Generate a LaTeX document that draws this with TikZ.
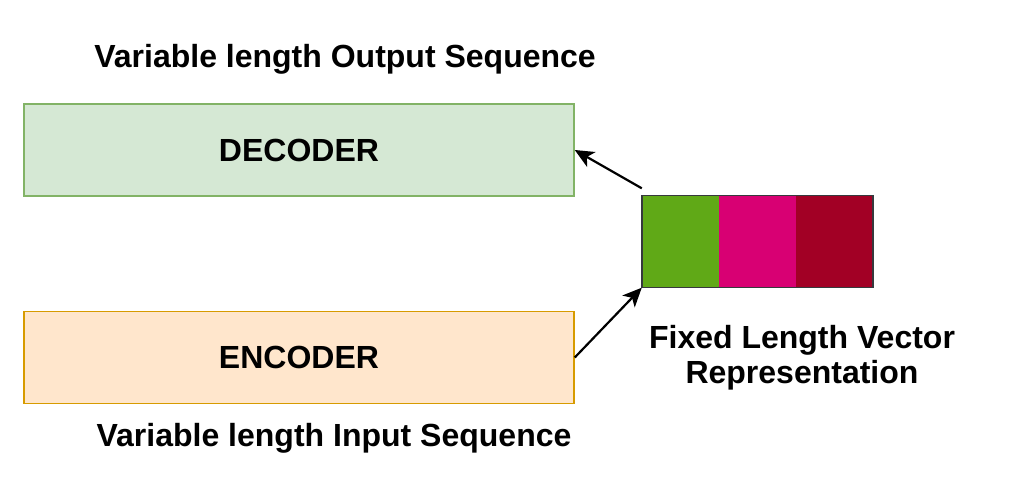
\documentclass[tikz,border=0pt]{standalone}
\usepackage{fontspec}
\setmainfont{Liberation Sans}
\usepackage{xcolor}
\usetikzlibrary{arrows.meta, positioning}

\definecolor{decfill}{HTML}{D5E8D4}
\definecolor{decline}{HTML}{82B366}
\definecolor{encfill}{HTML}{FFE6CC}
\definecolor{encline}{HTML}{D79B00}
\definecolor{vecgreen}{HTML}{60A917}
\definecolor{vecpink}{HTML}{D80073}
\definecolor{vecred}{HTML}{A20025}
\definecolor{vecline}{HTML}{36393D}

\begin{document}
\begin{tikzpicture}[x=1pt, y=-1pt, node distance=114pt, >={Stealth[length=19pt, width=17pt, inset=5pt]}]
		
		% Define block styles
		\tikzstyle{coder} = [rectangle, draw, line width=1.5pt, minimum width=550pt, minimum height=92pt, inner sep=0pt, text centered, font=\fontsize{32}{36}\selectfont\bfseries]
		\tikzstyle{cell} = [rectangle, minimum width=76.7pt, minimum height=92pt, inner sep=0pt]
		\tikzstyle{caption} = [inner sep=0pt, font=\fontsize{32}{35}\selectfont\bfseries]
		
		\useasboundingbox (0,0) rectangle (1014,495);
		
		% Nodes
		\node[coder, fill=decfill, draw=decline] (decoder) at (299,150) {DECODER};
		\node[coder, fill=encfill, draw=encline, below=of decoder] (encoder) {ENCODER};
		\node[cell, fill=vecgreen] (vecA) at (680.3,241.5) {};
		\node[cell, fill=vecpink, right=0pt of vecA] (vecB) {};
		\node[cell, fill=vecred, right=0pt of vecB] (vecC) {};
		\draw[vecline, line width=1.5pt] (vecA.north west) rectangle (vecC.south east);
		
		% Arrows
		\draw[->, line width=2.2pt] ([yshift=7pt]vecA.north west) -- (decoder.east);
		\draw[->, line width=2.2pt] (encoder.east) -- (vecA.south west);
		
		% Labels
		\node[caption, anchor=base] (outlabel) at (345,67) {Variable length Output Sequence};
		\node[caption, anchor=base] (inlabel) at (334,446) {Variable length Input Sequence};
		\node[caption, align=center] (veclabel) at (802,358) {Fixed Length Vector\\Representation};
		
	\end{tikzpicture}
\end{document}
